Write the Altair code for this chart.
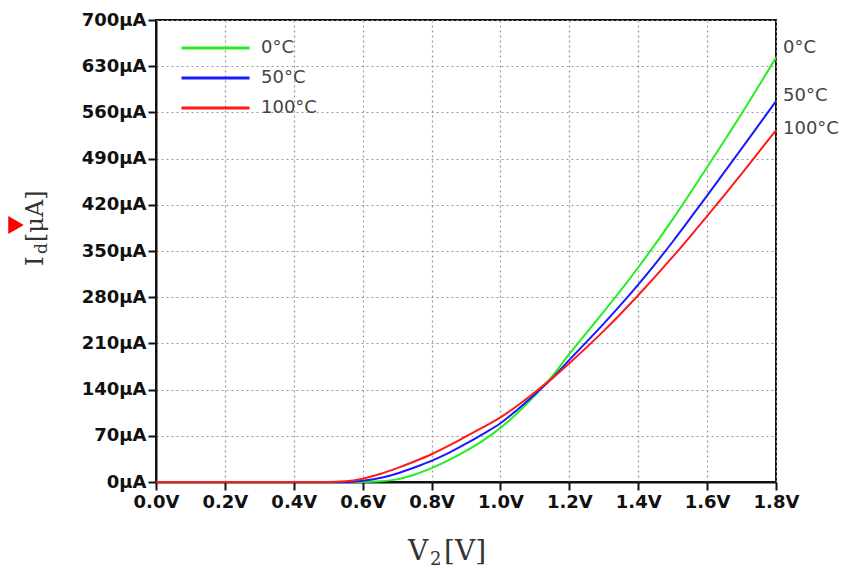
import altair as alt
import pandas as pd

# ---- data ----
volts = [0.0, 0.5, 0.55, 0.6, 0.65, 0.7, 0.75, 0.8, 0.85, 0.9, 0.95, 1.0,
         1.05, 1.1, 1.15, 1.2, 1.3, 1.4, 1.5, 1.6, 1.7, 1.8]
i_0c = [None, 0, 0, 0, 1, 4, 11, 21, 33, 47, 63, 82,
        105, 131, 160, 194, 258, 325, 398, 477, 558, 643]
i_50c = [None, 0, 0, 2, 6, 13, 22, 32, 44, 58, 73, 89,
         110, 133, 157, 185, 240, 299, 364, 434, 505, 577]
i_100c = [0, 0, 1, 5, 12, 21, 31, 42, 55, 69, 83, 98,
          116, 136, 157, 180, 229, 283, 341, 403, 467, 533]
series = ["0°C", "50°C", "100°C"]
colors = ["#22ee22", "#1a1aff", "#ff1a1a"]
end_label_values = [657, 585, 535]
x_ticks = [0.0, 0.2, 0.4, 0.6, 0.8, 1.0, 1.2, 1.4, 1.6, 1.8]
y_ticks = [0, 70, 140, 210, 280, 350, 420, 490, 560, 630, 700]

rows = []
for name, vals in zip(series, [i_0c, i_50c, i_100c]):
    for v, i in zip(volts, vals):
        if i is not None:
            rows.append({"V": v, "I": i, "T": name})
df = pd.DataFrame(rows)
labels_df = pd.DataFrame({"V": [1.8] * 3, "I": end_label_values, "T": series})

xscale = alt.Scale(domain=[0, 1.8], nice=False, zero=False)
yscale = alt.Scale(domain=[0, 700], nice=False)

lines = alt.Chart(df).mark_line(strokeWidth=2, interpolate="monotone").encode(
    x=alt.X("V:Q", scale=xscale, title=None,
            axis=alt.Axis(values=x_ticks, labelFlush=False, labelOverlap=False,
                          labelPadding=3,
                          labelExpr="format(datum.value, '.1f') + 'V'")),
    y=alt.Y("I:Q", scale=yscale, title=None,
            axis=alt.Axis(values=y_ticks, labelFlush=False, labelOverlap=False,
                          labelExpr="datum.value + 'μA'")),
    color=alt.Color("T:N", scale=alt.Scale(domain=series, range=colors),
                    legend=alt.Legend(title=None, orient="none", legendX=24, legendY=18,
                                      symbolType="stroke", symbolSize=4624,
                                      symbolStrokeWidth=3, clipHeight=20,
                                      rowPadding=10, labelOffset=10, padding=0,
                                      labelFont="DejaVu Sans", labelFontSize=18,
                                      labelColor="#444444")),
    order=alt.Order("T:N"),
)

end_labels = alt.Chart(labels_df).mark_text(
    align="left", baseline="middle", dx=7, font="DejaVu Sans", fontSize=18,
    color="#444444").encode(
    x=alt.X("V:Q", scale=xscale), y=alt.Y("I:Q", scale=yscale), text="T:N")


def txt(s, x, y, size, angle=0):
    return alt.Chart(pd.DataFrame({"t": [s]})).mark_text(
        align="left", baseline="alphabetic", font="DejaVu Serif",
        fontSize=size, angle=angle, color="#333333").encode(
        x=alt.value(x), y=alt.value(y), text="t:N")


x_title = txt("V", 252, 540, 28) + txt("2", 274, 545, 18) + txt("[V]", 288, 540, 28)
y_title = (txt("I", -113, 246, 24, 270) + txt("d", -109, 234, 17, 270)
           + txt("[μA]", -113, 222, 24, 270))

arrow = alt.Chart(pd.DataFrame({"a": [1]})).mark_point(
    shape="triangle-right", filled=True, color="#ff0000", size=320, opacity=1,
    strokeWidth=0).encode(
    x=alt.value(-140), y=alt.value(205))

chart = alt.layer(lines, end_labels, x_title, y_title, arrow).properties(
    width=620, height=462,
    padding={"left": 0, "top": 3, "right": 5, "bottom": 5},
).configure_view(
    stroke="#111111", strokeWidth=2
).configure_axis(
    labelFont="DejaVu Sans", labelFontSize=18, labelFontWeight="bold",
    labelColor="#111111", tickColor="#111111", tickSize=8, tickWidth=2,
    domainColor="#111111", domainWidth=2, labelPadding=2,
    gridColor="#999999", gridDash=[2, 3], gridWidth=1.2,
)

chart.save("out.html", embed_options={"renderer": "svg", "actions": False})
